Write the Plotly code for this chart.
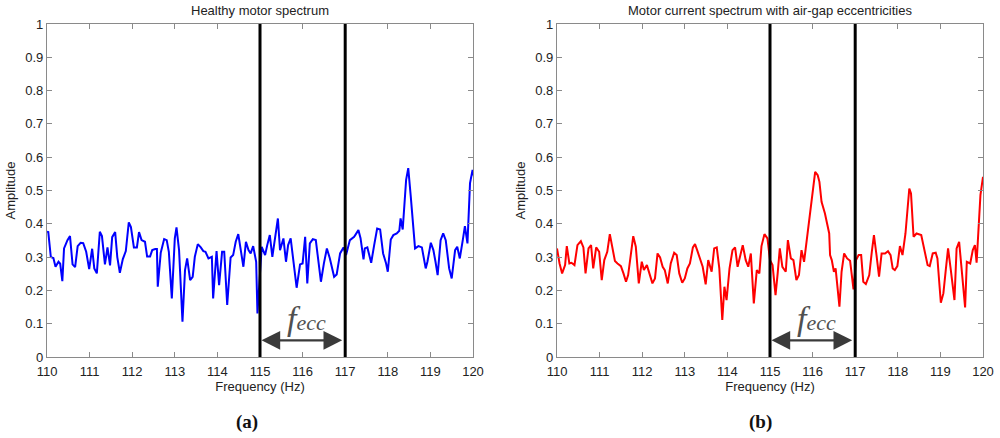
import plotly.graph_objects as go

# ---------------- data ----------------
healthy_freq = [110.00, 110.03, 110.09, 110.15, 110.20, 110.27, 110.31, 110.36, 110.40, 110.48,
                110.54, 110.60, 110.66, 110.72, 110.79, 110.85, 110.92, 110.99, 111.06, 111.11,
                111.17, 111.24, 111.29, 111.36, 111.42, 111.48, 111.53, 111.60, 111.65, 111.71,
                111.78, 111.85, 111.92, 111.97, 112.04, 112.11, 112.16, 112.22, 112.30, 112.35,
                112.42, 112.47, 112.54, 112.58, 112.60, 112.67, 112.75, 112.81, 112.86, 112.93,
                113.00, 113.04, 113.10, 113.18, 113.24, 113.29, 113.36, 113.42, 113.47, 113.54,
                113.61, 113.67, 113.72, 113.79, 113.87, 113.90, 113.98, 114.04, 114.11, 114.16,
                114.23, 114.31, 114.37, 114.43, 114.49, 114.55, 114.61, 114.67, 114.73, 114.78,
                114.84, 114.91, 114.94, 115.04, 115.12, 115.17, 115.23, 115.29, 115.34, 115.42,
                115.47, 115.55, 115.61, 115.66, 115.72, 115.80, 115.86, 115.94, 116.00, 116.06,
                116.11, 116.17, 116.24, 116.31, 116.37, 116.43, 116.50, 116.57, 116.64, 116.74,
                116.80, 116.88, 116.96, 117.02, 117.11, 117.21, 117.31, 117.36, 117.43, 117.46,
                117.52, 117.61, 117.68, 117.75, 117.82, 117.89, 117.96, 118.00, 118.07, 118.13,
                118.21, 118.27, 118.30, 118.35, 118.43, 118.48, 118.54, 118.64, 118.72, 118.80,
                118.89, 118.93, 119.01, 119.07, 119.12, 119.17, 119.24, 119.30, 119.36, 119.44,
                119.50, 119.58, 119.63, 119.69, 119.76, 119.81, 119.87, 119.93, 119.99, 120.05]
healthy_amp = [0.376, 0.375, 0.300, 0.297, 0.271, 0.286, 0.280, 0.228, 0.326, 0.351,
               0.363, 0.278, 0.270, 0.333, 0.343, 0.342, 0.316, 0.264, 0.325, 0.266,
               0.251, 0.376, 0.363, 0.278, 0.329, 0.275, 0.360, 0.375, 0.300, 0.253,
               0.294, 0.318, 0.404, 0.390, 0.329, 0.329, 0.375, 0.351, 0.346, 0.302,
               0.302, 0.321, 0.324, 0.324, 0.211, 0.313, 0.354, 0.351, 0.316, 0.176,
               0.356, 0.389, 0.321, 0.106, 0.261, 0.296, 0.231, 0.241, 0.301, 0.339,
               0.329, 0.318, 0.316, 0.296, 0.301, 0.176, 0.318, 0.216, 0.316, 0.316,
               0.156, 0.299, 0.306, 0.346, 0.369, 0.321, 0.271, 0.346, 0.321, 0.311,
               0.333, 0.286, 0.131, 0.331, 0.306, 0.336, 0.366, 0.301, 0.346, 0.416,
               0.321, 0.356, 0.286, 0.336, 0.356, 0.276, 0.208, 0.278, 0.281, 0.361,
               0.221, 0.341, 0.354, 0.351, 0.281, 0.226, 0.281, 0.326, 0.296, 0.241,
               0.248, 0.311, 0.329, 0.306, 0.351, 0.361, 0.381, 0.357, 0.293, 0.326,
               0.329, 0.283, 0.336, 0.386, 0.383, 0.311, 0.281, 0.256, 0.353, 0.366,
               0.371, 0.379, 0.416, 0.383, 0.532, 0.567, 0.481, 0.326, 0.333, 0.329,
               0.266, 0.286, 0.343, 0.321, 0.286, 0.246, 0.351, 0.371, 0.351, 0.266,
               0.236, 0.321, 0.331, 0.296, 0.351, 0.393, 0.341, 0.522, 0.562, 0.527]

ecc_freq = [110.00, 110.06, 110.12, 110.19, 110.23, 110.29, 110.34, 110.41, 110.48, 110.56,
            110.62, 110.67, 110.74, 110.80, 110.85, 110.92, 110.99, 111.05, 111.11, 111.18,
            111.24, 111.31, 111.36, 111.42, 111.50, 111.56, 111.62, 111.67, 111.74, 111.79,
            111.85, 111.92, 111.99, 112.04, 112.11, 112.17, 112.24, 112.30, 112.36, 112.42,
            112.48, 112.53, 112.60, 112.67, 112.75, 112.81, 112.87, 112.94, 113.00, 113.06,
            113.12, 113.19, 113.24, 113.29, 113.36, 113.42, 113.49, 113.55, 113.63, 113.69,
            113.75, 113.81, 113.88, 113.93, 113.98, 114.05, 114.12, 114.18, 114.24, 114.30,
            114.36, 114.43, 114.49, 114.55, 114.62, 114.69, 114.75, 114.80, 114.87, 114.94,
            115.00, 115.06, 115.13, 115.18, 115.23, 115.29, 115.37, 115.42, 115.49, 115.55,
            115.62, 115.68, 115.74, 115.80, 115.86, 115.92, 115.99, 116.06, 116.12, 116.16,
            116.21, 116.29, 116.34, 116.39, 116.41, 116.45, 116.50, 116.54, 116.63, 116.68,
            116.74, 116.81, 116.88, 116.96, 117.02, 117.08, 117.14, 117.19, 117.25, 117.33,
            117.39, 117.44, 117.50, 117.56, 117.62, 117.70, 117.77, 117.83, 117.88, 117.93,
            117.99, 118.05, 118.11, 118.18, 118.27, 118.31, 118.37, 118.44, 118.55, 118.62,
            118.70, 118.75, 118.82, 118.89, 118.93, 119.01, 119.07, 119.13, 119.18, 119.24,
            119.33, 119.38, 119.44, 119.49, 119.58, 119.62, 119.70, 119.76, 119.81, 119.85,
            119.94, 120.00, 120.04]
ecc_amp = [0.326, 0.281, 0.251, 0.276, 0.333, 0.281, 0.283, 0.276, 0.336, 0.348,
           0.329, 0.251, 0.326, 0.336, 0.266, 0.329, 0.316, 0.231, 0.291, 0.316,
           0.369, 0.324, 0.288, 0.281, 0.273, 0.251, 0.226, 0.246, 0.311, 0.363,
           0.331, 0.221, 0.286, 0.261, 0.276, 0.251, 0.221, 0.236, 0.311, 0.299,
           0.271, 0.261, 0.221, 0.281, 0.313, 0.306, 0.251, 0.223, 0.236, 0.266,
           0.281, 0.329, 0.339, 0.321, 0.291, 0.271, 0.218, 0.291, 0.256, 0.326,
           0.329, 0.266, 0.111, 0.211, 0.171, 0.266, 0.321, 0.329, 0.271, 0.301,
           0.336, 0.291, 0.271, 0.311, 0.161, 0.261, 0.251, 0.333, 0.369, 0.356,
           0.291, 0.276, 0.186, 0.251, 0.326, 0.271, 0.256, 0.351, 0.296, 0.291,
           0.231, 0.246, 0.321, 0.286, 0.351, 0.421, 0.491, 0.556, 0.546, 0.526,
           0.466, 0.431, 0.401, 0.371, 0.306, 0.291, 0.256, 0.266, 0.151, 0.256,
           0.311, 0.296, 0.289, 0.203, 0.291, 0.306, 0.306, 0.226, 0.219, 0.246,
           0.316, 0.366, 0.306, 0.241, 0.311, 0.311, 0.318, 0.306, 0.266, 0.261,
           0.273, 0.333, 0.306, 0.371, 0.506, 0.491, 0.361, 0.371, 0.366, 0.321,
           0.276, 0.273, 0.311, 0.313, 0.296, 0.163, 0.191, 0.266, 0.326, 0.266,
           0.171, 0.326, 0.346, 0.276, 0.149, 0.286, 0.281, 0.321, 0.336, 0.283,
           0.486, 0.541, 0.516]

x_ticks = [110, 111, 112, 113, 114, 115, 116, 117, 118, 119, 120]
y_ticks = [0, 0.1, 0.2, 0.3, 0.4, 0.5, 0.6, 0.7, 0.8, 0.9, 1]
y_tick_text = ["0", "0.1", "0.2", "0.3", "0.4", "0.5", "0.6", "0.7", "0.8", "0.9", "1"]
fecc_band = [115, 117]
titles = ["Healthy motor spectrum", "Motor current spectrum with air-gap eccentricities"]
panel_labels = ["(a)", "(b)"]

# ---------------- figure ----------------
W, H = 1000, 438
x_domains = [[47 / W, 473 / W], [557 / W, 983 / W]]
y_domain = [(H - 357) / H, (H - 24) / H]
label_x = [247 / W, 760 / W]

fig = go.Figure()
fig.add_trace(go.Scatter(x=healthy_freq, y=healthy_amp, mode="lines",
                         line=dict(color="#0000ff", width=2), xaxis="x", yaxis="y",
                         showlegend=False, cliponaxis=True))
fig.add_trace(go.Scatter(x=ecc_freq, y=ecc_amp, mode="lines",
                         line=dict(color="#ff0000", width=2), xaxis="x2", yaxis="y2",
                         showlegend=False, cliponaxis=True))

axis_font = dict(family="Liberation Sans, Arial, sans-serif", size=13, color="#222222")
common_x = dict(range=[110, 120], tickvals=x_ticks, ticks="inside", ticklen=5,
                tickcolor="#8a8a8a", showline=True, linecolor="#8a8a8a", linewidth=1.2,
                mirror="ticks", showgrid=False, zeroline=False, tickfont=axis_font,
                automargin=False, ticklabelstandoff=2,
                title=dict(text="Frequency (Hz)", font=axis_font, standoff=4))
common_y = dict(range=[0, 1], tickvals=y_ticks, ticktext=y_tick_text, ticks="inside",
                ticklen=5, tickcolor="#8a8a8a", showline=True, linecolor="#8a8a8a",
                linewidth=1.2, mirror="ticks", showgrid=False, zeroline=False,
                tickfont=axis_font, domain=y_domain, automargin=False,
                title=dict(text="Amplitude", font=axis_font, standoff=6))

fig.update_layout(
    width=W, height=H,
    margin=dict(l=0, r=0, t=0, b=0),
    paper_bgcolor="white", plot_bgcolor="white",
    xaxis=dict(common_x, domain=x_domains[0], anchor="y"),
    yaxis=dict(common_y, anchor="x"),
    xaxis2=dict(common_x, domain=x_domains[1], anchor="y2"),
    yaxis2=dict(common_y, anchor="x2"),
)

annotations = []
shapes = []
for i, (xr, yr) in enumerate([("x", "y"), ("x2", "y2")]):
    dom = x_domains[i]
    # subplot title
    annotations.append(dict(text=titles[i], xref="paper", yref="paper",
                            x=(dom[0] + dom[1]) / 2, y=(H - 10) / H, showarrow=False,
                            xanchor="center", yanchor="middle",
                            font=dict(family="Liberation Sans, Arial, sans-serif",
                                      size=13, color="#222222")))
    # panel label
    annotations.append(dict(text="<b>" + panel_labels[i] + "</b>", xref="paper",
                            yref="paper", x=label_x[i], y=(H - 422) / H, showarrow=False,
                            xanchor="center", yanchor="middle",
                            font=dict(family="Liberation Serif, Times New Roman, serif",
                                      size=19, color="#111111")))
    # band vertical lines
    for fx in fecc_band:
        shapes.append(dict(type="line", xref=xr, yref=yr + " domain", x0=fx, x1=fx,
                           y0=0, y1=1, line=dict(color="black", width=3)))
    # double arrow
    annotations.append(dict(x=fecc_band[0], y=0.05, ax=fecc_band[1], ay=0.05,
                            xref=xr, yref=yr, axref=xr, ayref=yr, text="",
                            showarrow=True, arrowhead=2, startarrowhead=2,
                            arrowside="end+start", arrowsize=1.7, startarrowsize=1.7,
                            arrowwidth=2.2, arrowcolor="#3a3a3a",
                            standoff=1.5, startstandoff=1.5))
    # f_ecc label
    annotations.append(dict(x=(fecc_band[0] + fecc_band[1]) / 2 + 0.1, y=0.115,
                            xref=xr, yref=yr, showarrow=False,
                            xanchor="center", yanchor="middle",
                            text="<i><span style='font-size:34px'>f</span>"
                                 "<span style='font-size:22px'>ecc</span></i>",
                            font=dict(family="Liberation Serif, Times New Roman, serif",
                                      size=22, color="#505050")))

fig.update_layout(annotations=annotations, shapes=shapes)
fig.write_html("out.html",
               config={"displayModeBar": False},
               post_script="document.body.style.margin='0';"
                           "document.body.style.padding='0';"
                           "document.body.style.overflow='hidden';")
